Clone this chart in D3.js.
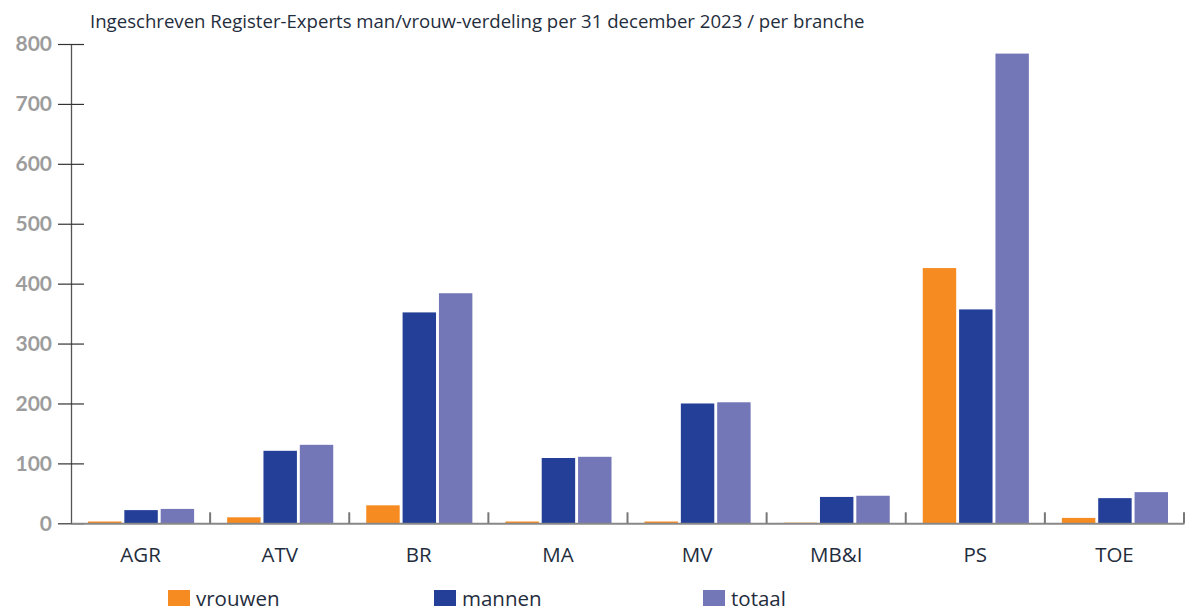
<!DOCTYPE html>
<html><head><meta charset="utf-8">
<script src="https://cdn.jsdelivr.net/npm/d3@7"></script>
<style>body{margin:0;background:#fff}</style>
</head><body>
<svg id="c" width="1186" height="612"></svg>
<script>
const categories = ["AGR","ATV","BR","MA","MV","MB&I","PS","TOE"];
const seriesNames = ["vrouwen","mannen","totaal"];
const vrouwen = [3,10,30,3,3,1,426,9];
const mannen  = [22,121,352,109,200,44,357,42];
const totaal  = [24,131,384,111,202,46,784,52];
const yTicks = [0,100,200,300,400,500,600,700,800];
const colors = ["#F68B21","#233F98","#7377B8"];
const title = "Ingeschreven Register-Experts man/vrouw-verdeling per 31 december 2023 / per branche";

const svg = d3.select("#c");
const x0 = d3.scaleBand().domain(categories).range([71,1184]);
const x1 = d3.scaleBand().domain(seriesNames).range([17, x0.bandwidth()-16]).paddingInner(0.08);
const y = d3.scaleLinear().domain([0,800]).range([523.3,44]);
const data = categories.map((c,i)=>({c, v:[vrouwen[i],mannen[i],totaal[i]]}));

const font = "'Open Sans', Lato, sans-serif";
const t = svg.append("text").attr("x",90).attr("y",28).text(title)
  .attr("font-family",font).attr("font-size",17).attr("fill","#1f2d3d");
const tw = t.node().getComputedTextLength();
t.attr("font-size", 17*775/tw);

// bars
const g = svg.append("g");
g.selectAll("g").data(data).join("g")
  .attr("transform",d=>`translate(${x0(d.c)},0)`)
  .selectAll("rect").data(d=>d.v.map((v,j)=>({v,s:seriesNames[j],j})))
  .join("rect")
  .attr("x",d=>x1(d.s)).attr("width",x1.bandwidth())
  .attr("y",d=>y(d.v)).attr("height",d=>y(0)-y(d.v))
  .attr("fill",d=>colors[d.j]);

// y axis
const ya = svg.append("g").attr("transform","translate(71,0)")
  .call(d3.axisLeft(y).tickValues(yTicks).tickSize(13).tickSizeOuter(0).tickPadding(6));
ya.select(".domain").attr("stroke","#555").attr("stroke-width",1.3);
ya.selectAll(".tick line").attr("x2",13).attr("x1",-13).attr("stroke","#333").attr("stroke-width",1.2);
ya.selectAll(".tick text").attr("font-family","Lato, sans-serif").attr("font-weight","bold")
  .attr("font-size",21).attr("fill","#9c9c9c").attr("x",-19);

// x axis
const xa = svg.append("g").attr("transform",`translate(0,${y(0)})`)
  .call(d3.axisBottom(x0).tickSize(0).tickPadding(24));
xa.select(".domain").attr("stroke","#888").attr("stroke-width",2);
xa.selectAll(".tick text").attr("font-family",font).attr("font-size",20.5).attr("fill","#1f2d3d");
svg.append("g").selectAll("line").data(categories).join("line")
  .attr("x1",d=>x0(d)+x0.bandwidth()).attr("x2",d=>x0(d)+x0.bandwidth())
  .attr("y1",y(0)-11).attr("y2",y(0)).attr("stroke","#777").attr("stroke-width",2);

// legend
const legX = [168,434,703];
const lg = svg.append("g").selectAll("g").data(seriesNames).join("g")
  .attr("transform",(d,i)=>`translate(${legX[i]},590)`);
lg.append("rect").attr("width",22).attr("height",16).attr("fill",(d,i)=>colors[i]);
lg.append("text").attr("x",28).attr("y",15.5).text(d=>d)
  .attr("font-family",font).attr("font-size",20.5).attr("fill","#1f2d3d");
</script>
</body></html>
